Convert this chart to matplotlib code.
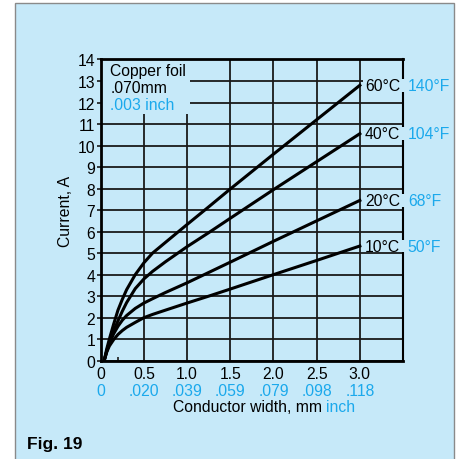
import matplotlib
matplotlib.use('Agg')
import matplotlib.pyplot as plt
from matplotlib.patches import Rectangle

plt.rcParams['font.family'] = ['Liberation Sans', 'DejaVu Sans']

bg = '#c6e9f9'
blue = '#1ba9ec'
ink = '#1a1a1a'

# conductor width (mm) and current (A)
width_mm = [0.04, 0.07, 0.1, 0.15, 0.2, 0.25, 0.3, 0.4, 0.5, 0.6, 0.75, 1.0, 1.25, 1.5, 2.0, 2.5, 3.0]
current_60 = [0, 0.55, 1.0, 1.7, 2.35, 2.85, 3.3, 4.0, 4.55, 5.0, 5.5, 6.33, 7.15, 7.98, 9.6, 11.2, 12.8]
current_40 = [0, 0.45, 0.85, 1.4, 1.85, 2.3, 2.7, 3.35, 3.8, 4.15, 4.6, 5.3, 5.95, 6.62, 7.95, 9.25, 10.55]
current_20 = [0, 0.45, 0.8, 1.25, 1.6, 1.88, 2.1, 2.43, 2.68, 2.88, 3.17, 3.62, 4.1, 4.58, 5.55, 6.5, 7.45]
current_10 = [0, 0.4, 0.68, 0.98, 1.22, 1.4, 1.55, 1.78, 2.0, 2.15, 2.35, 2.68, 3.0, 3.33, 4.0, 4.66, 5.33]

labels_c = ['60°C', '40°C', '20°C', '10°C']
labels_f = ['140°F', '104°F', '68°F', '50°F']

mm_ticks = [0, 0.5, 1.0, 1.5, 2.0, 2.5, 3.0]
mm_labels = ['0', '0.5', '1.0', '1.5', '2.0', '2.5', '3.0']
inch_labels = ['0', '.020', '.039', '.059', '.079', '.098', '.118']

fig = plt.figure(figsize=(4.61, 4.60), dpi=100)
fig.patch.set_facecolor('white')
fig.patches.append(Rectangle((15 / 461, -0.02), (454 - 15) / 461, (460 - 4) / 460 + 0.02,
                             transform=fig.transFigure, facecolor=bg, edgecolor='#8a8a8a',
                             linewidth=1.0, zorder=-10))

ax = fig.add_axes([100.7 / 461, 0.2137, 0.6558, 0.6548])
ax.set_facecolor(bg)
ax.set_xlim(0, 3.5)
ax.set_ylim(0, 14)
ax.set_axisbelow(True)

ax.set_yticks(range(15))
ax.set_xticks(mm_ticks)
ax.set_xticklabels(mm_labels)
ax.set_xticks([0.2], minor=True)
ax.tick_params(axis='y', length=3, width=1.2, pad=1, labelsize=11.3, color=ink)
ax.tick_params(axis='x', which='major', length=0, pad=4, labelsize=11.3)
ax.tick_params(axis='x', which='minor', direction='in', length=3, width=1.2, color=ink)
ax.grid(True, color=ink, linewidth=1.3)

for side in ['left', 'top', 'bottom']:
    ax.spines[side].set_linewidth(2.0)
ax.spines['right'].set_linewidth(1.5)
for s in ax.spines.values():
    s.set_color('black')

# box behind the foil note hides the grid
ax.add_patch(Rectangle((0, 11.45), 1.03, 2.55, facecolor=bg, edgecolor='none', zorder=1))
ax.text(0.11, 13.5, 'Copper foil', fontsize=11.3, va='center', zorder=3)
ax.text(0.11, 12.7, '.070mm', fontsize=11.3, va='center', zorder=3)
ax.text(0.11, 11.9, '.003 inch', fontsize=11.3, va='center', color=blue, zorder=3)

curves = [current_60, current_40, current_20, current_10]
for cur, lc, lf in zip(curves, labels_c, labels_f):
    ax.plot(width_mm, cur, color='black', linewidth=2.2, zorder=2)
    # label background breaks the grid and the right spine
    ax.add_patch(Rectangle((3.04, cur[-1] - 0.3), 0.53, 0.6, facecolor=bg, edgecolor='none',
                           zorder=3, clip_on=False))
    ax.text(3.06, cur[-1], lc, fontsize=11.3, va='center', ha='left', zorder=4, clip_on=False)
    ax.text(3.555, cur[-1], lf, fontsize=11.3, va='center', ha='left', color=blue, zorder=4,
            clip_on=False)

# inch equivalents under the mm tick labels
for x, lab in zip(mm_ticks, inch_labels):
    ax.text(x, -0.114, lab, transform=ax.get_xaxis_transform(), ha='center', va='baseline',
            fontsize=11.3, color=blue)

ax.text(0.732, -0.167, 'Conductor width, mm', transform=ax.transAxes, ha='right',
        va='baseline', fontsize=11.3)
ax.text(0.744, -0.167, 'inch', transform=ax.transAxes, ha='left', va='baseline',
        fontsize=11.3, color=blue)

ax.set_ylabel('Current, A', fontsize=11.3)
ax.yaxis.set_label_coords(-0.09, 0.5)

fig.text(27 / 461, 0.024, 'Fig. 19', fontsize=12.5, fontweight='bold', va='baseline')

fig.savefig('out.png', dpi=100, facecolor=fig.get_facecolor())
